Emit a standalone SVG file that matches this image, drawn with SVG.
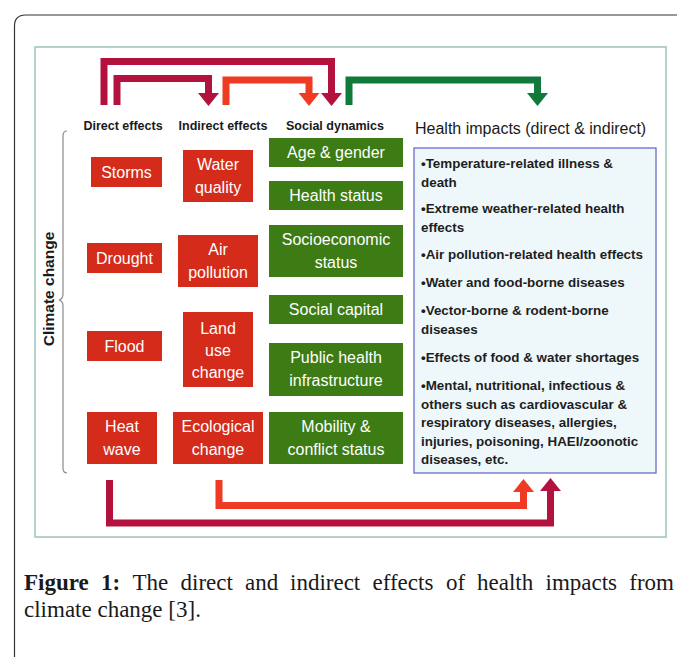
<svg xmlns="http://www.w3.org/2000/svg" width="677" height="657" viewBox="0 0 677 657">
  <style>
    .sans { font-family: "Liberation Sans", Arial, sans-serif; }
    .hdr { font-family: "Liberation Sans", Arial, sans-serif; font-size: 12.5px; font-weight: bold; fill: #1a1a1a; text-anchor: middle; }
    .hdr-big { font-family: "Liberation Sans", Arial, sans-serif; font-size: 16px; fill: #1a1a1a; }
    .red { fill: #d42b1b; }
    .green { fill: #3d7b14; }
    .lbl { font-family: "Liberation Sans", Arial, sans-serif; font-size: 16px; fill: #ffffff; text-anchor: middle; }
    .imp { font-family: "Liberation Sans", Arial, sans-serif; font-size: 13.4px; font-weight: bold; fill: #1e1e1e; }
    .conn { fill: none; stroke-width: 7; stroke-linejoin: miter; stroke-linecap: butt; }
    .crimson { stroke: #b3123f; }
    .orange { stroke: #ef3b24; }
    .dgreen { stroke: #107a3b; }
    .cap { font-family: "Liberation Serif", "Times New Roman", serif; font-size: 23px; fill: #1a1a1a; }
  </style>
  <defs>
    <marker id="headCrimson" viewBox="0 0 13 21" refX="0" refY="10.5" markerWidth="13" markerHeight="21" markerUnits="userSpaceOnUse" orient="auto">
      <path d="M0,0 L13,10.5 L0,21 Z" fill="#b3123f"/>
    </marker>
    <marker id="headOrange" viewBox="0 0 13 21" refX="0" refY="10.5" markerWidth="13" markerHeight="21" markerUnits="userSpaceOnUse" orient="auto">
      <path d="M0,0 L13,10.5 L0,21 Z" fill="#ef3b24"/>
    </marker>
    <marker id="headGreen" viewBox="0 0 13 21" refX="0" refY="10.5" markerWidth="13" markerHeight="21" markerUnits="userSpaceOnUse" orient="auto">
      <path d="M0,0 L13,10.5 L0,21 Z" fill="#107a3b"/>
    </marker>
  </defs>

  <!-- page background and outer frame -->
  <rect x="0" y="0" width="677" height="657" fill="#ffffff"/>
  <path d="M14.5,657 V26 Q14.5,15 25.5,15 H677" fill="none" stroke="#333333" stroke-width="1.2"/>

  <!-- figure panel -->
  <rect x="35" y="47" width="631" height="490" fill="#ffffff" stroke="#9cc3b5" stroke-width="1.5"/>

  <!-- column headings -->
  <g id="headings">
    <text class="hdr" x="123" y="130">Direct effects</text>
    <text class="hdr" x="223" y="130">Indirect effects</text>
    <text class="hdr" x="335" y="130">Social dynamics</text>
    <text class="hdr-big" x="415" y="134">Health impacts (direct &amp; indirect)</text>
  </g>

  <!-- climate change brace -->
  <g id="climate-change">
    <path d="M67,131 Q63,131 63,136 V294 Q63,299 59,300 Q63,301 63,306 V468 Q63,473 67,473" fill="none" stroke="#8a8a8a" stroke-width="1.2"/>
    <text class="sans" transform="translate(54,289) rotate(-90)" text-anchor="middle" font-size="15.5" font-weight="bold" fill="#1a1a1a">Climate change</text>
  </g>

  <!-- direct effects -->
  <g id="storms"><rect class="red" x="91" y="157" width="71" height="30"/><text class="lbl" x="126.5" y="177.5">Storms</text></g>
  <g id="drought"><rect class="red" x="87" y="243" width="75" height="30"/><text class="lbl" x="124.5" y="263.5">Drought</text></g>
  <g id="flood"><rect class="red" x="87" y="331" width="75" height="30"/><text class="lbl" x="124.5" y="351.5">Flood</text></g>
  <g id="heat-wave"><rect class="red" x="87" y="412" width="70" height="52"/><text class="lbl" x="122" y="432">Heat</text><text class="lbl" x="122" y="455">wave</text></g>

  <!-- indirect effects -->
  <g id="water-quality"><rect class="red" x="183" y="150" width="70" height="52"/><text class="lbl" x="218" y="170">Water</text><text class="lbl" x="218" y="193">quality</text></g>
  <g id="air-pollution"><rect class="red" x="178" y="235" width="80" height="52"/><text class="lbl" x="218" y="255">Air</text><text class="lbl" x="218" y="278">pollution</text></g>
  <g id="land-use-change"><rect class="red" x="183" y="312" width="70" height="75"/><text class="lbl" x="218" y="333.5">Land</text><text class="lbl" x="218" y="355.5">use</text><text class="lbl" x="218" y="377.5">change</text></g>
  <g id="ecological-change"><rect class="red" x="173" y="412" width="90" height="52"/><text class="lbl" x="218" y="432">Ecological</text><text class="lbl" x="218" y="455">change</text></g>

  <!-- social dynamics -->
  <g id="age-gender"><rect class="green" x="269" y="138" width="134" height="29"/><text class="lbl" x="336" y="158">Age &amp; gender</text></g>
  <g id="health-status"><rect class="green" x="269" y="181" width="134" height="29"/><text class="lbl" x="336" y="201">Health status</text></g>
  <g id="socioeconomic-status"><rect class="green" x="269" y="225" width="134" height="52"/><text class="lbl" x="336" y="245">Socioeconomic</text><text class="lbl" x="336" y="268">status</text></g>
  <g id="social-capital"><rect class="green" x="269" y="295" width="134" height="29"/><text class="lbl" x="336" y="315">Social capital</text></g>
  <g id="public-health"><rect class="green" x="269" y="343" width="134" height="53"/><text class="lbl" x="336" y="363">Public health</text><text class="lbl" x="336" y="386">infrastructure</text></g>
  <g id="mobility-conflict"><rect class="green" x="269" y="412" width="134" height="52"/><text class="lbl" x="336" y="432">Mobility &amp;</text><text class="lbl" x="336" y="455">conflict status</text></g>

  <!-- health impacts -->
  <g id="health-impacts">
    <rect x="414" y="148" width="242" height="325" fill="#eef8fb" stroke="#6b6bc9" stroke-width="1.3"/>
    <text class="imp" x="421">
      <tspan x="421" y="168">•Temperature-related illness &amp;</tspan>
      <tspan x="421" y="186.5">death</tspan>
      <tspan x="421" y="213">•Extreme weather-related health</tspan>
      <tspan x="421" y="231.5">effects</tspan>
      <tspan x="421" y="259">•Air pollution-related health effects</tspan>
      <tspan x="421" y="287">•Water and food-borne diseases</tspan>
      <tspan x="421" y="315">•Vector-borne &amp; rodent-borne</tspan>
      <tspan x="421" y="333.5">diseases</tspan>
      <tspan x="421" y="362">•Effects of food &amp; water shortages</tspan>
      <tspan x="421" y="390">•Mental, nutritional, infectious &amp;</tspan>
      <tspan x="421" y="408.5">others such as cardiovascular &amp;</tspan>
      <tspan x="421" y="427">respiratory diseases, allergies,</tspan>
      <tspan x="421" y="445.5">injuries, poisoning, HAEI/zoonotic</tspan>
      <tspan x="421" y="464">diseases, etc.</tspan>
    </text>
  </g>

  <!-- connectors -->
  <g id="connectors">
    <path class="conn crimson" d="M104,105 V61.5 H331.5 V93" marker-end="url(#headCrimson)"/>
    <path class="conn crimson" d="M117,105 V78.5 H208.5 V93" marker-end="url(#headCrimson)"/>
    <path class="conn orange" d="M226,105 V80 H309 V93" marker-end="url(#headOrange)"/>
    <path class="conn dgreen" d="M349,105 V80 H537.5 V93" marker-end="url(#headGreen)"/>
    <path class="conn orange" d="M219,480 V505.5 H523.5 V492" marker-end="url(#headOrange)"/>
    <path class="conn crimson" d="M109.5,480 V523 H550.5 V491" marker-end="url(#headCrimson)"/>
  </g>

  <!-- caption: first line justified word by word -->
  <g id="caption">
    <text class="cap" y="590"><tspan x="24" font-weight="bold">Figure</tspan><tspan x="101" font-weight="bold">1:</tspan><tspan x="132.5">The</tspan><tspan x="180.5">direct</tspan><tspan x="245">and</tspan><tspan x="290">indirect</tspan><tspan x="372.5">effects</tspan><tspan x="446">of</tspan><tspan x="477">health</tspan><tspan x="545.5">impacts</tspan><tspan x="674" text-anchor="end">from</tspan></text>
    <text class="cap" x="24" y="617">climate change [3].</text>
  </g>
</svg>
